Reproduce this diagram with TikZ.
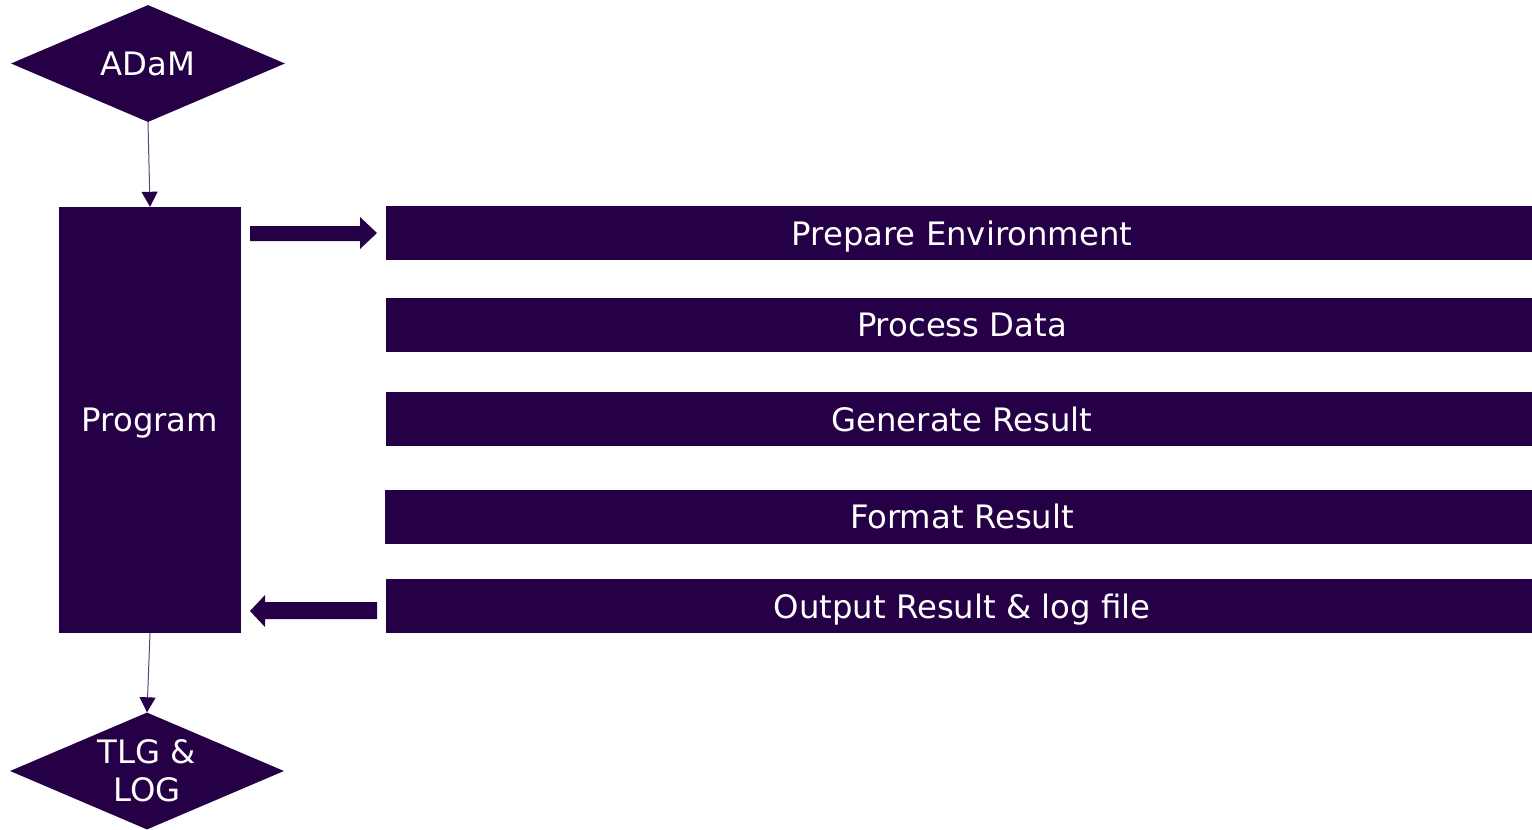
\documentclass[tikz,border=0pt]{standalone}
\usepackage{fontspec}
\setmainfont{DejaVu Sans}
\usetikzlibrary{shapes.geometric,arrows.meta}
\definecolor{deep}{HTML}{250047}
\definecolor{thin}{HTML}{5A4478}
\begin{document}
\begin{tikzpicture}[x=1pt,y=-1pt,
  every node/.style={text=white,font=\fontsize{32.3}{38}\selectfont},
  decision/.style={shape=diamond,fill=deep,inner sep=0pt,aspect=2.33,minimum width=274pt,minimum height=117pt,align=center},
  progbox/.style={fill=deep,inner sep=0pt,minimum width=182pt,minimum height=426pt,text depth=0pt},
  stepbar/.style={fill=deep,inner sep=0pt,minimum width=1152pt,minimum height=54pt,text depth=0pt},
  link/.style={draw=thin,line width=1pt,-{Triangle[width=16pt,length=15pt,fill=deep,color=deep]}},
  blockarrow/.style={fill=deep,draw=none}]
\useasboundingbox (0,0) rectangle (1532,830);
\node[decision] (adam) at (148,63.5) {\raisebox{-1.5pt}{ADaM}};
\node[progbox] (prog) at (150,420) {Program};
\node[decision] (tlg) at (147,771) {TLG \&\\LOG};
\node[stepbar] (s1) at (962,233) {Prepare Environment};
\node[stepbar] (s2) at (962,325) {Process Data};
\node[stepbar] (s3) at (962,419) {Generate Result};
\node[stepbar,minimum width=1154pt] (s4) at (962,516.5) {Format Result};
\node[stepbar] (s5) at (962,606) {Output Result \& log file};
\draw[link] (adam.south) -- (prog.north);
\draw[link] (prog.south) -- (tlg.north);
\fill[blockarrow] (250,226) -- (360,226) -- (360,217) -- (377,233) -- (360,249) -- (360,241) -- (250,241) -- cycle;
\fill[blockarrow] (377,602) -- (265,602) -- (265,595) -- (250,611) -- (265,627) -- (265,619) -- (377,619) -- cycle;
\end{tikzpicture}
\end{document}
